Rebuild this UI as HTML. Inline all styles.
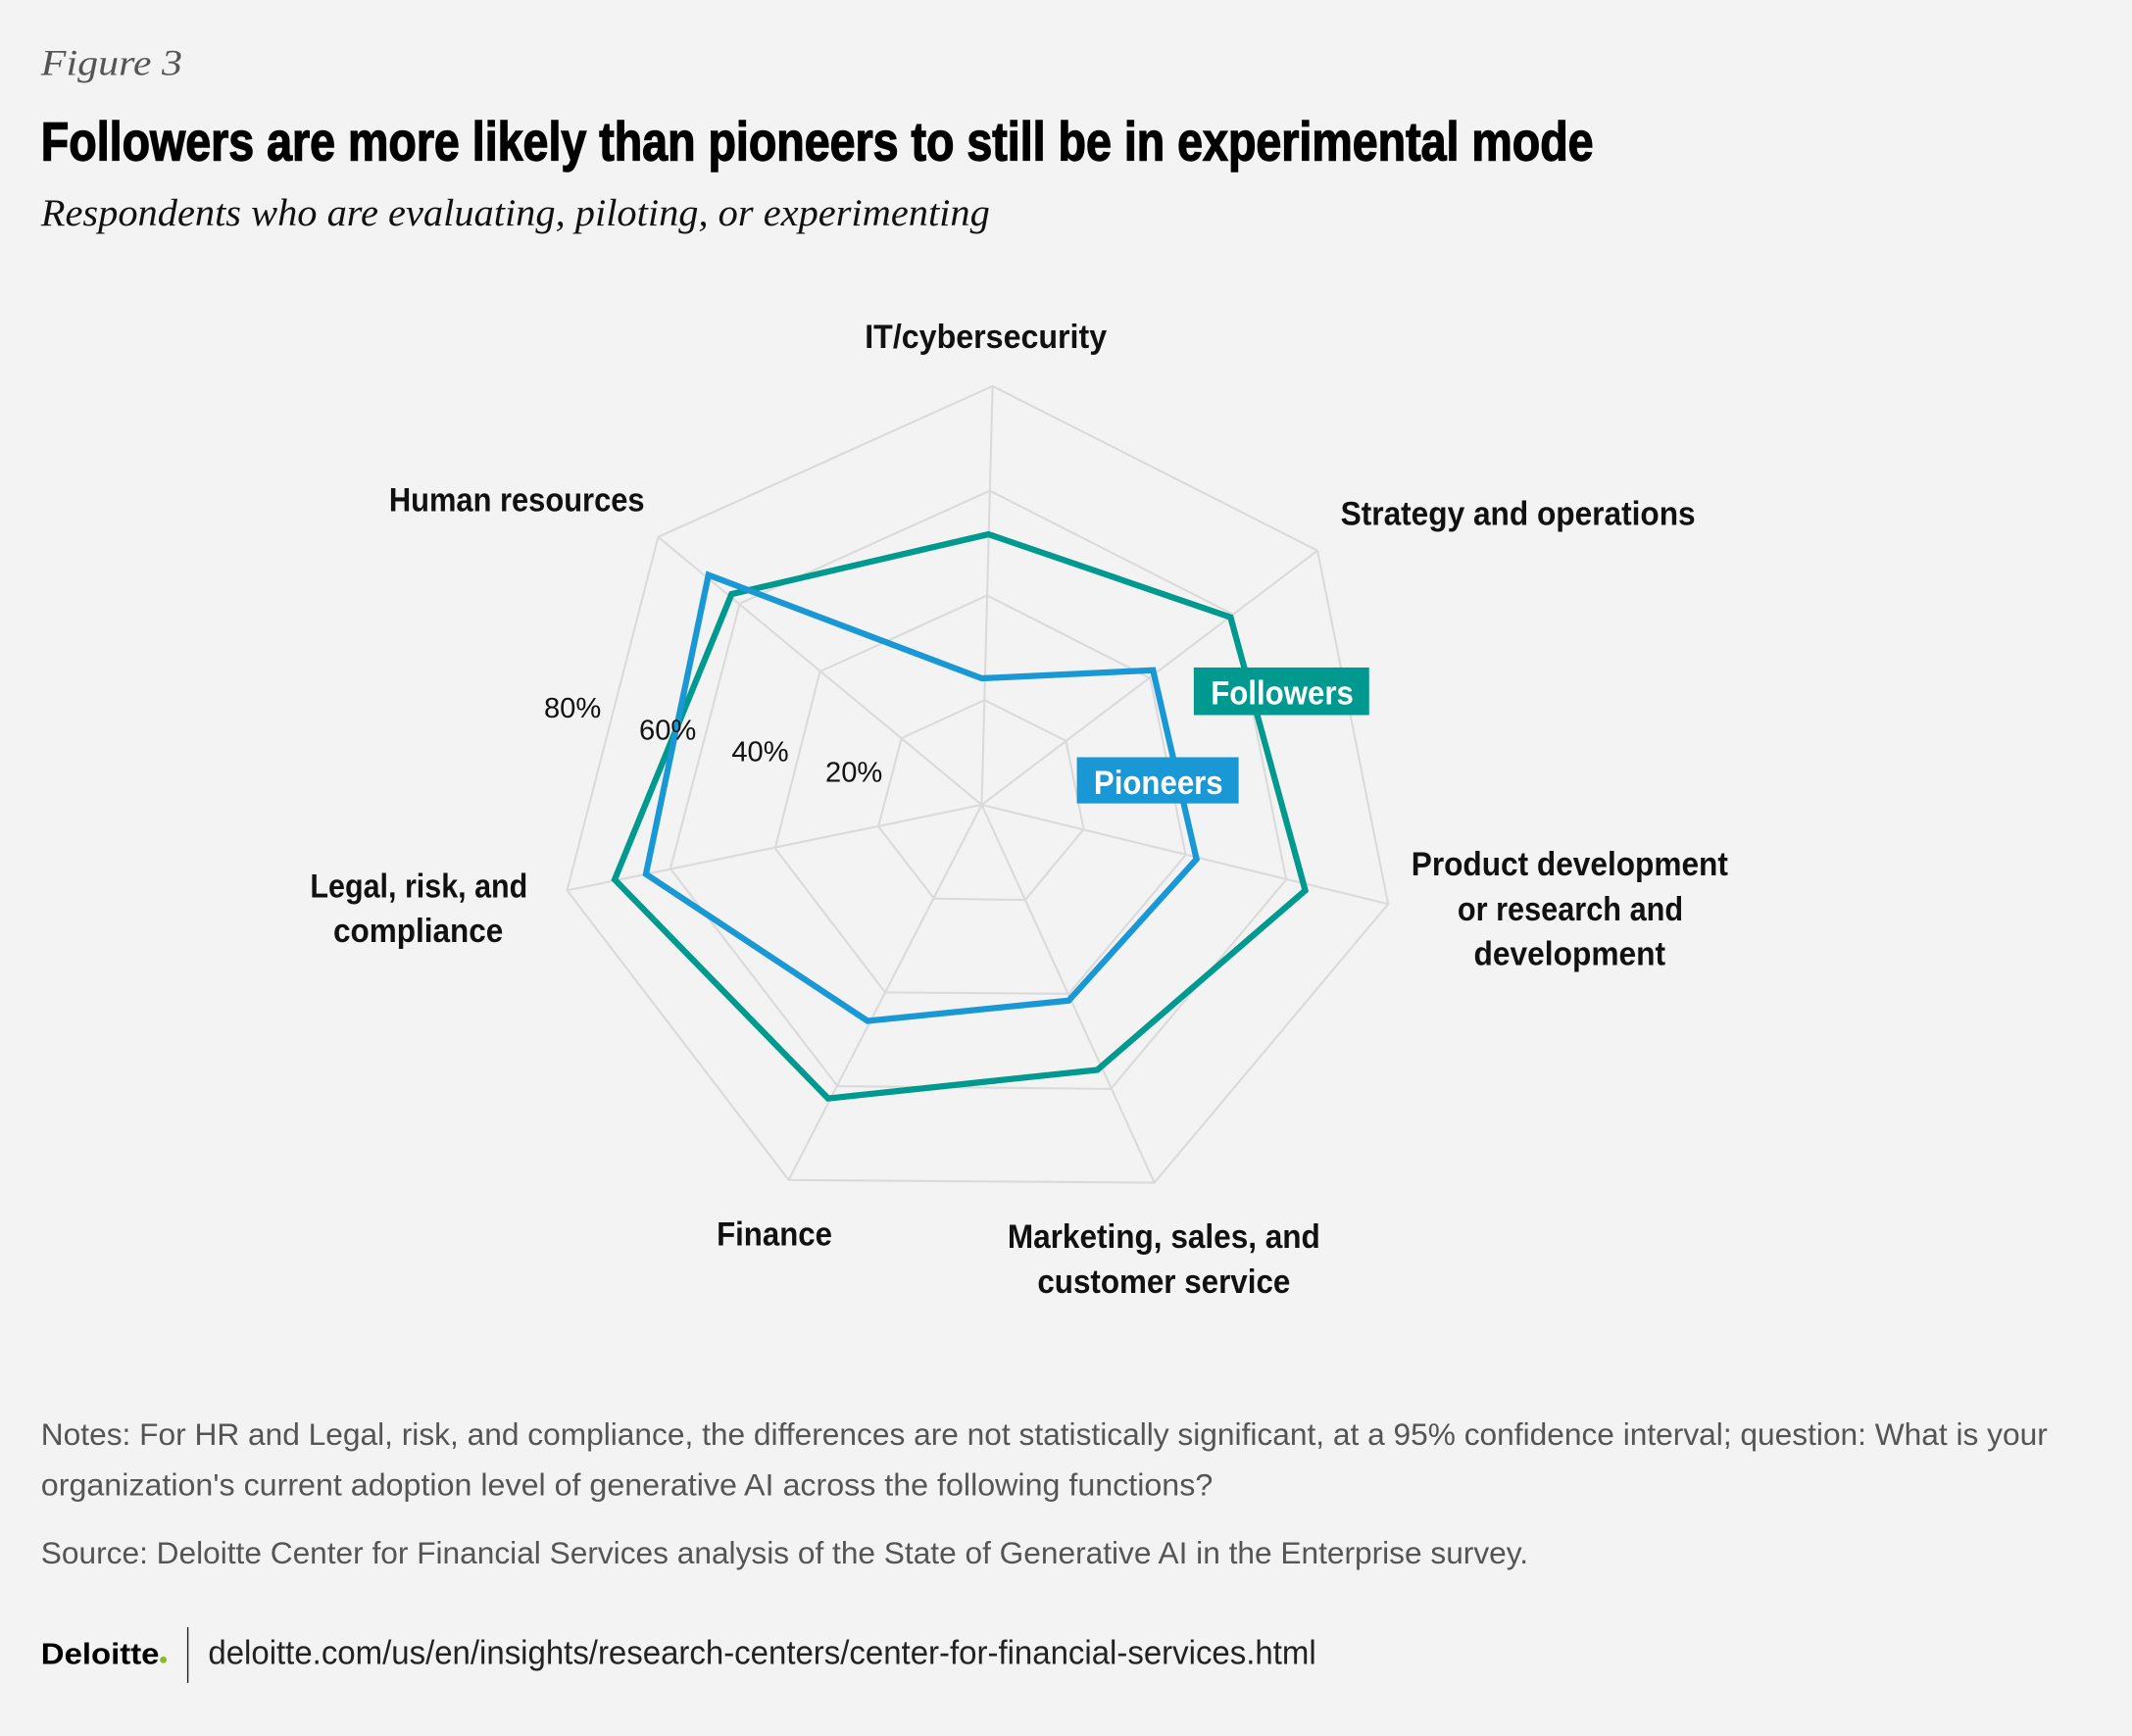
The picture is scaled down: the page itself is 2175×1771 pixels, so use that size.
<!DOCTYPE html>
<html><head><meta charset="utf-8"><style>
html,body{margin:0;padding:0;background:#f2f3f2;}
svg{display:block}
.lab{font-family:"Liberation Sans",sans-serif;font-weight:bold;font-size:25px;fill:#111}
.pct{font-family:"Liberation Sans",sans-serif;font-size:21px;fill:#111}
.note{font-family:"Liberation Sans",sans-serif;font-size:23px;fill:#555}
</style></head><body>
<svg width="2175" height="1771" viewBox="0 0 1568 1277" xmlns="http://www.w3.org/2000/svg">
<rect width="1568" height="1277" fill="#f2f3f2"/>
<text x="30" y="55" font-family="Liberation Serif,serif" font-style="italic" font-size="27" fill="#555" textLength="104" lengthAdjust="spacingAndGlyphs">Figure 3</text>
<text x="30" y="118" font-family="Liberation Sans,sans-serif" font-weight="bold" font-size="40" fill="#000" stroke="#000" stroke-width="1" textLength="1142" lengthAdjust="spacingAndGlyphs">Followers are more likely than pioneers to still be in experimental mode</text>
<text x="30" y="166" font-family="Liberation Serif,serif" font-style="italic" font-size="28" fill="#111" textLength="698" lengthAdjust="spacingAndGlyphs">Respondents who are evaluating, piloting, or experimenting</text>

<g fill="none" stroke="#d9dad9" stroke-width="1.5">
<polygon points="730,284 969,405 1021,665 849,870 580,868 417,655 484,395"/>
<polygon points="728,361 907,452 946,647 817,801 616,799 493,639 544,444"/>
<polygon points="726,438 846,499 872,629 786,731 651,730 570,624 603,494"/>
<polygon points="724,515 784,545 797,610 754,662 687,661 646,608 663,543"/>
<path d="M722,592L730,284M722,592L969,405M722,592L1021,665M722,592L849,870M722,592L580,868M722,592L417,655M722,592L484,395"/>
</g>
<g fill="none" stroke-width="4.5" stroke-linejoin="miter">
<polygon points="727,393 905,454 960,655 807,787 609,808 452,647 538,437" stroke="#00998f"/>
<polygon points="722,499 848,493 880,632 786,736 638,751 475,643 521,423" stroke="#1a98d5"/>
</g>
<text class="pct" x="400" y="528">80%</text>
<text class="pct" x="470" y="544">60%</text>
<text class="pct" x="538" y="560">40%</text>
<text class="pct" x="607" y="575">20%</text>

<rect x="878" y="491" width="129" height="35" fill="#00998f"/>
<text x="943" y="518" text-anchor="middle" class="lab" style="fill:#fff" textLength="105" lengthAdjust="spacingAndGlyphs">Followers</text>
<rect x="792" y="557" width="119" height="34" fill="#1a98d5"/>
<text x="852" y="584" text-anchor="middle" class="lab" style="fill:#fff" textLength="95" lengthAdjust="spacingAndGlyphs">Pioneers</text>

<text class="lab" x="636" y="256" textLength="178" lengthAdjust="spacingAndGlyphs">IT/cybersecurity</text>
<text class="lab" x="286" y="376" textLength="188" lengthAdjust="spacingAndGlyphs">Human resources</text>
<text class="lab" x="986" y="386" textLength="261" lengthAdjust="spacingAndGlyphs">Strategy and operations</text>
<text class="lab" x="1038" y="644" textLength="233" lengthAdjust="spacingAndGlyphs">Product development</text>
<text class="lab" x="1072" y="677" textLength="166" lengthAdjust="spacingAndGlyphs">or research and</text>
<text class="lab" x="1084" y="710" textLength="141" lengthAdjust="spacingAndGlyphs">development</text>
<text class="lab" x="228" y="660" textLength="160" lengthAdjust="spacingAndGlyphs">Legal, risk, and</text>
<text class="lab" x="245" y="693" textLength="125" lengthAdjust="spacingAndGlyphs">compliance</text>
<text class="lab" x="527" y="916" textLength="85" lengthAdjust="spacingAndGlyphs">Finance</text>
<text class="lab" x="741" y="918" textLength="230" lengthAdjust="spacingAndGlyphs">Marketing, sales, and</text>
<text class="lab" x="763" y="951" textLength="186" lengthAdjust="spacingAndGlyphs">customer service</text>

<text class="note" x="30" y="1063" textLength="1476" lengthAdjust="spacingAndGlyphs">Notes: For HR and Legal, risk, and compliance, the differences are not statistically significant, at a 95% confidence interval; question: What is your</text>
<text class="note" x="30" y="1100" textLength="862" lengthAdjust="spacingAndGlyphs">organization's current adoption level of generative AI across the following functions?</text>
<text class="note" x="30" y="1150" textLength="1094" lengthAdjust="spacingAndGlyphs">Source: Deloitte Center for Financial Services analysis of the State of Generative AI in the Enterprise survey.</text>
<text x="30" y="1224" font-family="Liberation Sans,sans-serif" font-weight="bold" font-size="22" fill="#000" textLength="87" lengthAdjust="spacingAndGlyphs">Deloitte</text>
<circle cx="120" cy="1221" r="2.5" fill="#86bc25"/>
<line x1="138" y1="1197" x2="138" y2="1238" stroke="#222" stroke-width="1"/>
<text x="153" y="1224" font-family="Liberation Sans,sans-serif" font-size="25" fill="#222" textLength="815" lengthAdjust="spacingAndGlyphs">deloitte.com/us/en/insights/research-centers/center-for-financial-services.html</text>
</svg>
</body></html>
